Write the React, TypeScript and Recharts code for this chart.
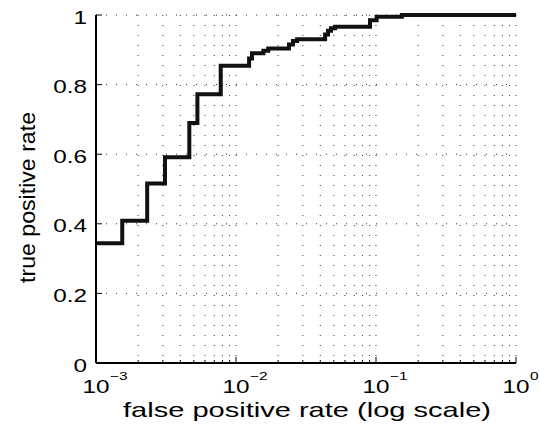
import { CartesianGrid, Line, LineChart, XAxis, YAxis } from "recharts";

// ROC curve (stepAfter: each tpr holds until the next fpr)
const fpr = [
  0.001, 0.00154, 0.00232, 0.00311, 0.00464, 0.0053, 0.00778, 0.0124, 0.013,
  0.0157, 0.017, 0.0239, 0.0255, 0.0273, 0.0433, 0.0454, 0.0477, 0.051, 0.0906,
  0.101, 0.153, 1,
];
const tpr = [
  0.344, 0.409, 0.516, 0.591, 0.69, 0.772, 0.854, 0.875, 0.89, 0.897, 0.904,
  0.915, 0.925, 0.93, 0.944, 0.955, 0.962, 0.966, 0.985, 0.995, 1, 1,
];

const xTicks = [
  0.001, 0.002, 0.003, 0.004, 0.005, 0.006, 0.007, 0.008, 0.009,
  0.01, 0.02, 0.03, 0.04, 0.05, 0.06, 0.07, 0.08, 0.09,
  0.1, 0.2, 0.3, 0.4, 0.5, 0.6, 0.7, 0.8, 0.9, 1,
];
const decades = [0.001, 0.01, 0.1, 1];
const decadeExponents = ["−3", "−2", "−1", "0"];
const yTicks = [0, 0.2, 0.4, 0.6, 0.8, 1];
const yTickLabels = ["0", "0.2", "0.4", "0.6", "0.8", "1"];

const data = fpr.map((f, i) => ({ fpr: f, tpr: tpr[i] }));

const FONT = "'Liberation Sans', Arial, Helvetica, sans-serif";
const SX = 1.35; // text in the reference is drawn wide

function BottomTick(props: any) {
  const { x, y, payload } = props;
  const k = decades.indexOf(payload.value);
  const major = k >= 0;
  return (
    <g>
      <line x1={x} x2={x} y1={y} y2={y - (major ? 6 : 3)} stroke="#000" />
      {major && (
        <g transform={`translate(${x},${y + 29.5}) scale(${SX},1)`}>
          <text x={0} y={0} textAnchor="middle" fontSize={18} fontFamily={FONT} fill="#000">
            10
          </text>
          <text x={10.3} y={-12.5} fontSize={11.5} fontFamily={FONT} fill="#000">
            {decadeExponents[k]}
          </text>
        </g>
      )}
    </g>
  );
}

function TopTick(props: any) {
  const { x, y, payload } = props;
  const major = decades.indexOf(payload.value) >= 0;
  return <line x1={x} x2={x} y1={y} y2={y + (major ? 6 : 3)} stroke="#000" />;
}

function LeftTick(props: any) {
  const { x, y, payload } = props;
  const k = yTicks.indexOf(payload.value);
  return (
    <g>
      <line x1={x} x2={x + 6} y1={y} y2={y} stroke="#000" />
      <g transform={`translate(${x - 9},${y + 8.5}) scale(${SX},1)`}>
        <text x={0} y={0} textAnchor="end" fontSize={18} fontFamily={FONT} fill="#000">
          {yTickLabels[k]}
        </text>
      </g>
    </g>
  );
}

function RightTick(props: any) {
  const { x, y } = props;
  return <line x1={x} x2={x - 6} y1={y} y2={y} stroke="#000" />;
}

function XLabel(props: any) {
  const vb = props.viewBox ?? { x: 96, y: 363, width: 420, height: 61 };
  return (
    <text
      x={vb.x + vb.width / 2 + 1}
      y={vb.y + 53.7}
      textAnchor="middle"
      fontSize={21}
      fontFamily={FONT}
      fill="#000"
      textLength={368}
      lengthAdjust="spacingAndGlyphs"
    >
      false positive rate (log scale)
    </text>
  );
}

function YLabel(props: any) {
  const vb = props.viewBox ?? { x: 0, y: 15, width: 96, height: 348 };
  const cx = vb.x + 27.5;
  const cy = vb.y + vb.height / 2 + 8.5;
  return (
    <text
      x={cx}
      y={cy}
      transform={`rotate(-90 ${cx} ${cy})`}
      textAnchor="middle"
      dominantBaseline="central"
      fontSize={22}
      fontFamily={FONT}
      fill="#000"
      textLength={171}
      lengthAdjust="spacingAndGlyphs"
    >
      true positive rate
    </text>
  );
}

export default function App() {
  return (
    <div style={{ position: "absolute", left: 0, top: 0, background: "#fff" }}>
      <LineChart
        width={540}
        height={424}
        data={data}
        margin={{ top: 15, right: 24, bottom: 0, left: 0 }}
      >
        <CartesianGrid stroke="#333" strokeDasharray="1 9" strokeWidth={1} />
        <XAxis
          dataKey="fpr"
          type="number"
          scale="log"
          domain={[0.001, 1]}
          ticks={xTicks}
          interval={0}
          allowDataOverflow
          height={61}
          tickSize={0}
          tickMargin={0}
          tick={<BottomTick />}
          axisLine={{ stroke: "#000", strokeWidth: 2 }}
          label={{ value: "false positive rate (log scale)", content: XLabel }}
        />
        <XAxis
          xAxisId="top"
          orientation="top"
          type="number"
          scale="log"
          domain={[0.001, 1]}
          ticks={xTicks}
          interval={0}
          allowDataOverflow
          height={0}
          tickSize={0}
          tickMargin={0}
          tick={<TopTick />}
          axisLine={{ stroke: "#000", strokeWidth: 2 }}
        />
        <YAxis
          type="number"
          domain={[0, 1]}
          ticks={yTicks}
          interval={0}
          width={96}
          tickSize={0}
          tickMargin={0}
          tick={<LeftTick />}
          axisLine={{ stroke: "#000", strokeWidth: 2 }}
          label={{ value: "true positive rate", content: YLabel }}
        />
        <YAxis
          yAxisId="right"
          orientation="right"
          type="number"
          domain={[0, 1]}
          ticks={yTicks}
          interval={0}
          width={0}
          tickSize={0}
          tickMargin={0}
          tick={<RightTick />}
          axisLine={{ stroke: "#000", strokeWidth: 2 }}
        />
        <Line
          dataKey="tpr"
          type="stepAfter"
          stroke="#111"
          strokeWidth={4}
          dot={false}
          isAnimationActive={false}
        />
      </LineChart>
    </div>
  );
}
